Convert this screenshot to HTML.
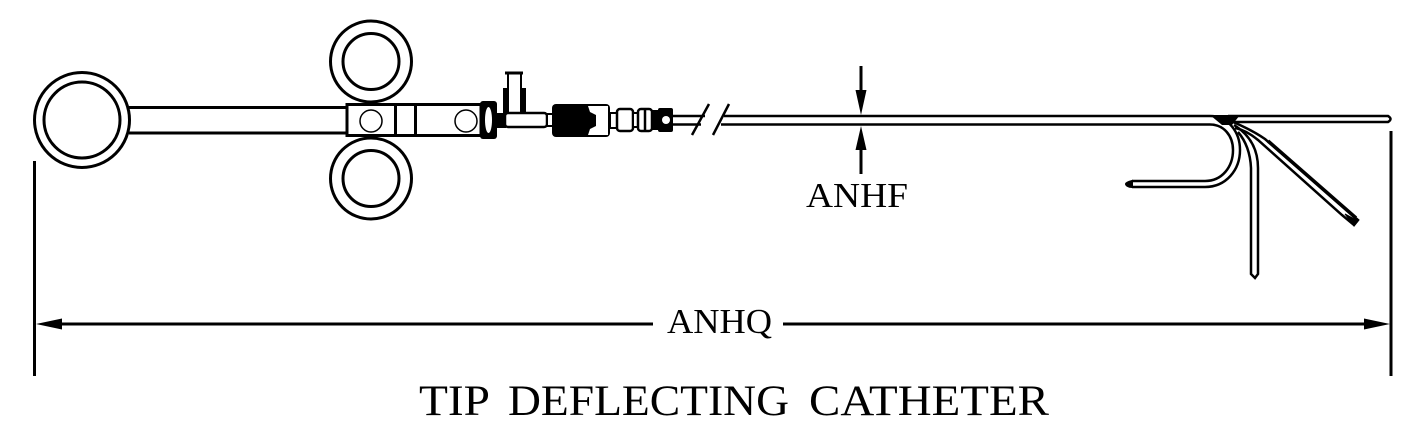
<!DOCTYPE html>
<html><head><meta charset="utf-8"><style>
html,body{margin:0;padding:0;background:#fff}
svg{display:block}
text{font-family:"Liberation Serif",serif;fill:#000}
</style></head><body>
<svg width="1424" height="438" viewBox="0 0 1424 438" xmlns="http://www.w3.org/2000/svg" fill="none" stroke="#000" stroke-width="3">
<rect width="1424" height="438" fill="#fff" stroke="none"/>
<!-- rings -->
<circle cx="82" cy="120" r="47.500"/><circle cx="82" cy="120" r="38"/>
<circle cx="371" cy="61.500" r="40.500"/><circle cx="371" cy="61.500" r="28"/>
<circle cx="371" cy="178.500" r="40.500"/><circle cx="371" cy="178.500" r="28"/>
<!-- handle -->
<path d="M129 107.500H347M129 133H347"/>
<rect x="347" y="104.500" width="134" height="31" fill="#fff"/>
<path d="M395.500 104.500V135.500M415.500 104.500V135.500"/>
<circle cx="371" cy="121" r="11" stroke-width="1.500"/><circle cx="466" cy="121" r="11" stroke-width="1.500"/>
<!-- collar -->
<rect x="480" y="101" width="17" height="38" rx="3" fill="#000" stroke="none"/>
<ellipse cx="488.500" cy="120" rx="3.500" ry="13" fill="#fff" stroke="none"/>
<rect x="497" y="113" width="9" height="15" fill="#000" stroke="none"/>
<!-- T fitting -->
<path d="M505 73H523" stroke-width="3"/>
<path d="M508 73V89M521 73V89" stroke-width="2"/>
<path d="M506 88V113M523 88V113" stroke-width="6"/>
<rect x="505" y="113" width="42" height="14" rx="3" fill="#fff" stroke-width="2.500"/>
<rect x="547" y="114" width="6" height="12" fill="#fff" stroke-width="2"/>
<!-- connector -->
<rect x="552" y="104" width="58" height="33" rx="4" fill="#000" stroke="none"/>
<path d="M588 106H608V135H588L590 129 596 126V115L590 112Z" fill="#fff" stroke="none"/>
<rect x="610" y="113" width="8" height="15" fill="#fff" stroke-width="2"/>
<rect x="617" y="109" width="16" height="22" rx="3" fill="#fff" stroke-width="2.500"/>
<rect x="633" y="113" width="5" height="14" fill="#fff" stroke-width="2"/>
<rect x="638" y="109" width="14" height="22" rx="3" fill="#fff" stroke-width="2.500"/>
<path d="M645 109V131" stroke-width="2.500"/>
<rect x="652" y="110" width="7" height="20" fill="#000" stroke="none"/>
<rect x="658" y="108" width="15" height="24" rx="2" fill="#000" stroke="none"/>
<circle cx="666" cy="120" r="4" fill="#fff" stroke="none"/>
<!-- shaft -->
<path d="M673 116H705M673 124.500H701" stroke-width="2.500"/>
<path d="M692 135L709 104M713 135L729 104" stroke-width="2.500"/>
<path d="M724 116H1210C1228 116 1240 132 1240 150C1240 170 1226 187 1205 187H1132M721 124.500H1210C1224 124.500 1233 136 1233 150C1233 167 1222 181 1205 181H1132" stroke-width="2.500"/>
<path d="M1132 181C1128 182 1126 183 1126 184C1126 185 1128 187 1132 187Z" fill="#000" stroke-width="2"/>
<path d="M1210 115H1240L1232 125H1222Z" fill="#000" stroke="none"/>
<!-- straight tip -->
<path d="M1228 116H1388Q1393 119 1388 122H1232" stroke-width="2.500"/>
<!-- vertical tip -->
<path d="M1234 125Q1258 140 1258 168V274L1255 278L1251 274V168Q1250 146 1238 132" stroke-width="2.500"/>
<!-- diagonal tip -->
<path d="M1233 122Q1252 130 1265 139L1358 220L1354 225L1342 215L1258 140Q1246 130 1235 128" stroke-width="2.500"/>
<path d="M1268 141L1356 218" stroke-width="3.500"/>
<path d="M1345 214L1358 221L1354 226Z" fill="#000" stroke="#000" stroke-width="1"/>
<!-- ANHF dimension -->
<path d="M861 66V92M861 148V174" stroke-width="3"/>
<path d="M855.500 90H866.500L861 115Z M855.500 150H866.500L861 126Z" fill="#000" stroke="none"/>
<text x="806" y="207" font-size="35" textLength="102" lengthAdjust="spacingAndGlyphs" stroke="none">ANHF</text>
<!-- ANHQ dimension -->
<path d="M34.500 161V376M1391 131V376" stroke-width="3"/>
<path d="M60 324H653M783 324H1366" stroke-width="3"/>
<path d="M36 324L62 318.500V329.500Z M1390 324L1364 318.500V329.500Z" fill="#000" stroke="none"/>
<text x="667" y="333" font-size="35" textLength="105" lengthAdjust="spacingAndGlyphs" stroke="none">ANHQ</text>
<!-- title -->
<text x="419" y="415" font-size="43" textLength="71" lengthAdjust="spacingAndGlyphs" stroke="none">TIP</text>
<text x="508" y="415" font-size="43" textLength="281" lengthAdjust="spacingAndGlyphs" stroke="none">DEFLECTING</text>
<text x="809" y="415" font-size="43" textLength="240" lengthAdjust="spacingAndGlyphs" stroke="none">CATHETER</text>
</svg>
</body></html>
